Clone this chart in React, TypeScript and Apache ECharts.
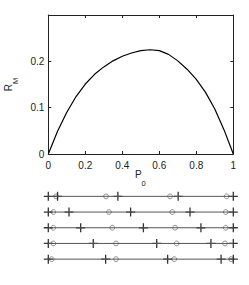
import React, { useEffect, useRef } from "react";
import * as echarts from "echarts";

// Upper plot: R_M as a function of P_0
const p0 = [0, 0.05, 0.1, 0.15, 0.2, 0.25, 0.3, 0.35, 0.4, 0.45, 0.5, 0.55, 0.6, 0.65, 0.7, 0.75, 0.8, 0.85, 0.9, 0.95, 1];
const rM = [0, 0.049, 0.09, 0.124, 0.151, 0.172, 0.188, 0.201, 0.211, 0.218, 0.223, 0.225, 0.223, 0.215, 0.201, 0.183, 0.161, 0.133, 0.097, 0.052, 0];
const xTickLabels = ["0", "0.2", "0.4", "0.6", "0.8", "1"];
const yTickLabels = ["0", "0.1", "0.2"];
const yName = "{p|R}{s|M}";

// Lower panel: five rows of '+' and 'o' marks on [0, 1]
const rowIds = [1, 2, 3, 4, 5];
const plusRows = [
  [0, 0.05, 0.376, 0.702, 1],
  [0, 0.112, 0.445, 0.766, 1],
  [0, 0.175, 0.514, 0.825, 1],
  [0, 0.243, 0.586, 0.879, 1],
  [0, 0.31, 0.645, 0.934, 1],
];
const circleRows = [
  [0.042, 0.312, 0.658, 0.964],
  [0.027, 0.328, 0.67, 0.959],
  [0.027, 0.346, 0.685, 0.959],
  [0.027, 0.366, 0.694, 0.955],
  [0.018, 0.366, 0.681, 0.988],
];

const FONT = "Liberation Sans";
const TXT = "#222";

export default function App() {
  const ref = useRef<HTMLDivElement>(null);
  useEffect(() => {
    if (!ref.current) return;
    const chart = echarts.init(ref.current, undefined, { renderer: "svg" });
    const left = 48.3;
    const width = 185;
    const axisCommon = {
      type: "value" as const,
      min: 0,
      max: 1,
      interval: 0.2,
      splitLine: { show: false },
      axisLine: { show: true, onZero: false, lineStyle: { color: TXT, width: 1 } },
      axisTick: { show: true, inside: true, length: 3, lineStyle: { color: TXT } },
    };
    const rich = {
      p: { fontSize: 10, fontFamily: FONT, color: TXT, verticalAlign: "top", lineHeight: 12 },
      s: { fontSize: 7.5, fontFamily: FONT, color: TXT, verticalAlign: "top", lineHeight: 9, padding: [8, 0, 0, 0] },
    };
    const series: any[] = [
      {
        type: "line",
        xAxisIndex: 0,
        yAxisIndex: 0,
        data: p0.map((x, i) => [x, rM[i]]),
        showSymbol: false,
        lineStyle: { color: "#000", width: 1.2 },
      },
    ];
    rowIds.forEach((r, i) => {
      series.push({
        type: "line",
        xAxisIndex: 2,
        yAxisIndex: 2,
        data: [
          [0, r],
          [1, r],
        ],
        showSymbol: false,
        lineStyle: { color: "#555", width: 1 },
      });
      series.push({
        type: "scatter",
        xAxisIndex: 2,
        yAxisIndex: 2,
        data: circleRows[i].map((x) => [x, r]),
        symbol: "circle",
        symbolSize: 4.8,
        itemStyle: { color: "none", borderColor: "#666", borderWidth: 0.9 },
      });
      series.push({
        type: "scatter",
        xAxisIndex: 2,
        yAxisIndex: 2,
        data: plusRows[i].map((x) => [x, r]),
        symbol: "path://M0,-1L0,1M-1,0L1,0",
        symbolSize: 9,
        itemStyle: { color: "none", borderColor: "#000", borderWidth: 1.3 },
      });
    });
    chart.setOption({
      animation: false,
      grid: [
        { left, top: 15, width, height: 139, containLabel: false, outerBoundsMode: "none" },
        { left, top: 188.5, width, height: 78.5, containLabel: false, outerBoundsMode: "none" },
      ],
      xAxis: [
        {
          ...axisCommon,
          gridIndex: 0,
          position: "bottom",
          axisLabel: {
            fontSize: 10,
            fontFamily: FONT,
            color: TXT,
            margin: 6,
            formatter: (v: number) => xTickLabels[Math.round(v / 0.2)] ?? "",
          },
        },
        { ...axisCommon, gridIndex: 0, position: "top", axisLabel: { show: false } },
        { type: "value", gridIndex: 1, min: 0, max: 1, show: false },
      ],
      yAxis: [
        {
          ...axisCommon,
          gridIndex: 0,
          position: "left",
          max: 0.3,
          interval: 0.1,
          name: yName,
          nameLocation: "middle",
          nameRotate: 90,
          nameGap: 27,
          nameTextStyle: { rich },
          axisLabel: {
            fontSize: 10,
            fontFamily: FONT,
            color: TXT,
            margin: 4,
            formatter: (v: number) => yTickLabels[Math.round(v / 0.1)] ?? "",
          },
        },
        { ...axisCommon, gridIndex: 0, position: "right", max: 0.3, interval: 0.1, axisLabel: { show: false } },
        { type: "value", gridIndex: 1, min: 0.5, max: 5.5, inverse: true, show: false },
      ],
      graphic: [
        { type: "text", left: 135, top: 169.5, style: { text: "P", fontSize: 10, fontFamily: FONT, fill: TXT } },
        { type: "text", left: 141.5, top: 179, style: { text: "0", fontSize: 7.5, fontFamily: FONT, fill: TXT } },
      ],
      series,
    });
    return () => chart.dispose();
  }, []);
  return <div ref={ref} style={{ position: "fixed", left: 0, top: 0, width: 249, height: 285, background: "#fff" }} />;
}
